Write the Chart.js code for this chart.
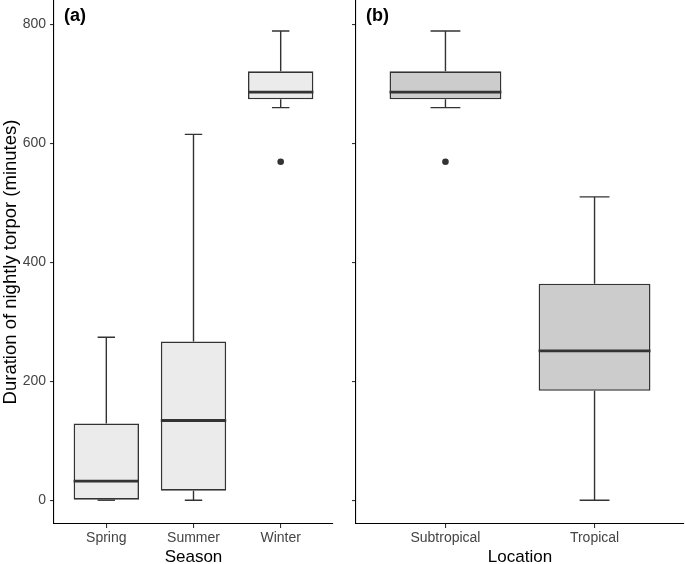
<!DOCTYPE html>
<html>
<head>
<meta charset="utf-8">
<script src="https://cdn.jsdelivr.net/npm/chart.js@4.4.1/dist/chart.umd.min.js"></script>
<style>
  html, body { margin: 0; padding: 0; background: #fff; }
  #wrap { position: relative; width: 685px; height: 564px; }
  canvas { position: absolute; top: 0; }
</style>
</head>
<body>
<div id="wrap">
  <canvas id="chartA" width="340" height="564" style="left:0"></canvas>
  <canvas id="chartB" width="345" height="564" style="left:340px"></canvas>
</div>
<script>
// panel (a) - season
const seasons = ['Spring', 'Summer', 'Winter'];
const seasonMin = [0, 0, 660];
const seasonQ1 = [0, 16, 674];
const seasonMed = [32, 134, 686];
const seasonQ3 = [129, 267, 721];
const seasonMax = [274, 615, 789];
const seasonOutliers = [[], [], [569]];

// panel (b) - location
const locations = ['Subtropical', 'Tropical'];
const locMin = [660, 0];
const locQ1 = [674, 184];
const locMed = [686, 251];
const locQ3 = [721, 364];
const locMax = [789, 510];
const locOutliers = [[569], []];

const yTicks = [0, 200, 400, 600, 800];
const FONT = "'Liberation Sans', Arial, Helvetica, sans-serif";

// whiskers behind, medians + panel tag on top
function boxPlugin(st, tag) {
    return {
        id: 'boxExtras',
        beforeDatasetsDraw(chart) {
            const {ctx, scales: {x, y}} = chart;
            ctx.save();
            ctx.strokeStyle = '#333';
            ctx.lineWidth = 1.4;
            st.min.forEach((mn, i) => {
                const cx = x.getPixelForValue(i + 1);
                const l = x.getPixelForValue(i + 0.9), r = x.getPixelForValue(i + 1.1);
                [[st.q1[i], mn], [st.q3[i], st.max[i]]].forEach(([from, to]) => {
                    ctx.beginPath();
                    ctx.moveTo(cx, y.getPixelForValue(from));
                    ctx.lineTo(cx, y.getPixelForValue(to));
                    ctx.moveTo(l, y.getPixelForValue(to));
                    ctx.lineTo(r, y.getPixelForValue(to));
                    ctx.stroke();
                });
            });
            ctx.restore();
        },
        afterDatasetsDraw(chart) {
            const {ctx, chartArea, scales: {y}} = chart;
            const meta = chart.getDatasetMeta(0);
            ctx.save();
            ctx.strokeStyle = '#333';
            ctx.lineWidth = 2.8;
            meta.data.forEach((bar, i) => {
                const py = y.getPixelForValue(st.med[i]);
                ctx.beginPath();
                ctx.moveTo(bar.x - bar.width / 2, py);
                ctx.lineTo(bar.x + bar.width / 2, py);
                ctx.stroke();
            });
            ctx.fillStyle = '#000';
            ctx.font = 'bold 18px ' + FONT;
            ctx.textBaseline = 'middle';
            ctx.fillText(tag, chartArea.left + 10, chartArea.top + 16);
            ctx.restore();
        }
    };
}

function panel(id, cats, st, fill, tag, xTitle, yTitle, yWidth, padRight) {
    const boxes = cats.map((c, i) => ({x: i + 1, y: [st.q1[i], st.q3[i]]}));
    const outs = st.out.flatMap((vals, i) => vals.map(v => ({x: i + 1, y: v})));
    return new Chart(document.getElementById(id), {
        type: 'bar',
        data: {
            datasets: [
                { type: 'bar', data: boxes, backgroundColor: fill, borderColor: '#333', borderWidth: 1.6,
                  borderSkipped: false, categoryPercentage: 1, barPercentage: 0.75 },
                { type: 'scatter', data: outs, pointRadius: 3.3, backgroundColor: '#333', borderWidth: 0 }
            ]
        },
        options: {
            responsive: false, animation: false, events: [],
            layout: { autoPadding: false, padding: { left: 0, right: padRight, top: 0, bottom: 0 } },
            plugins: { legend: { display: false }, tooltip: { enabled: false } },
            scales: {
                x: {
                    type: 'linear', min: 0.4, max: cats.length + 0.6, offset: false,
                    afterBuildTicks: s => { s.ticks = cats.map((c, i) => ({value: i + 1})); },
                    afterFit: s => { s.height = 40; s.paddingLeft = 0; s.paddingRight = 0; },
                    border: { color: '#000', width: 1.1 },
                    grid: { offset: false, drawOnChartArea: false, drawTicks: true, tickLength: 4, color: '#333', lineWidth: 1.1 },
                    ticks: { color: '#444', font: { family: FONT, size: 14 }, padding: 2, maxRotation: 0, autoSkip: false,
                             callback: v => cats[v - 1] },
                    title: { display: true, text: xTitle, color: '#000', font: { family: FONT, size: 17 }, padding: { top: 0, bottom: -4 } }
                },
                y: {
                    min: -40, max: 841,
                    afterBuildTicks: s => { s.ticks = yTicks.map(v => ({value: v})); },
                    afterFit: s => { s.width = yWidth; s.paddingTop = 0; s.paddingBottom = 0; },
                    border: { color: '#000', width: 1.1 },
                    grid: { drawOnChartArea: false, drawTicks: true, tickLength: 4, color: '#333', lineWidth: 1.1 },
                    ticks: { color: '#444', font: { family: FONT, size: 14 }, padding: 4,
                             callback: v => yTitle ? String(v) : '' },
                    title: { display: !!yTitle, text: yTitle, color: '#000', font: { family: FONT, size: 18.5 }, padding: { top: 0, bottom: 0 } }
                }
            }
        },
        plugins: [boxPlugin(st, tag)]
    });
}

panel('chartA', seasons,
      { min: seasonMin, q1: seasonQ1, med: seasonMed, q3: seasonQ3, max: seasonMax, out: seasonOutliers },
      '#ebebeb', '(a)', 'Season', 'Duration of nightly torpor (minutes)', 54, 7);
panel('chartB', locations,
      { min: locMin, q1: locQ1, med: locMed, q3: locQ3, max: locMax, out: locOutliers },
      '#cccccc', '(b)', 'Location', '', 16, 1);
</script>
</body>
</html>
